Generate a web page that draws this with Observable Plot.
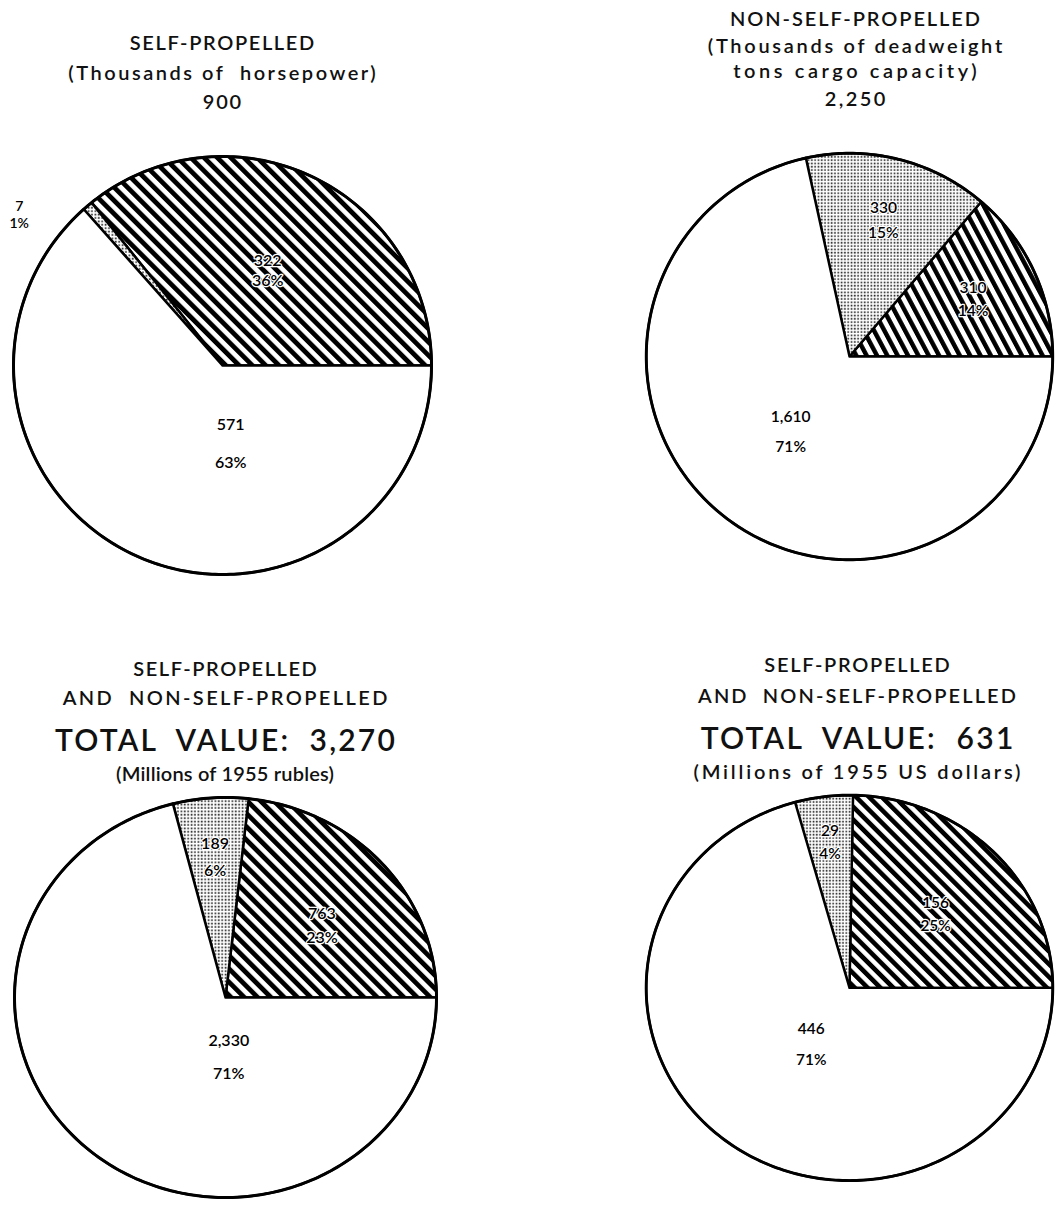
<!DOCTYPE html>
<html>
<head>
<meta charset="utf-8">
<script src="https://cdn.jsdelivr.net/npm/d3@7"></script>
<script src="https://cdn.jsdelivr.net/npm/@observablehq/plot@0.6"></script>
<style>
  html, body { margin: 0; padding: 0; background: #fff; }
  body { position: relative; width: 1060px; height: 1220px; overflow: hidden;
         font-family: Lato, "Open Sans", "DejaVu Sans", sans-serif; color: #111; }
  .tl { position: absolute; white-space: pre; text-align: center; transform: translate(-50%, -50%);
        line-height: 1; font-weight: 600; }
  .pie { position: absolute; }
  .pie svg { overflow: visible; }
</style>
</head>
<body>
<svg width="0" height="0" style="position:absolute">
  <defs>
    <pattern id="hatchA" patternUnits="userSpaceOnUse" width="9.4" height="9.4" patternTransform="rotate(-45)">
      <rect width="9.4" height="9.4" fill="#fff"/>
      <rect width="4.8" height="9.4" fill="#000"/>
    </pattern>
    <pattern id="hatchB" patternUnits="userSpaceOnUse" width="9.4" height="9.4" patternTransform="rotate(-28)">
      <rect width="9.4" height="9.4" fill="#fff"/>
      <rect width="4.6" height="9.4" fill="#000"/>
    </pattern>
    <pattern id="stipple" patternUnits="userSpaceOnUse" width="3.4" height="3.4">
      <rect width="3.4" height="3.4" fill="#fff"/>
      <rect x="0.6" y="0.6" width="1.7" height="1.7" fill="#222"/>
    </pattern>
  </defs>
</svg>
<script>
// ---- data ----
const sliceKinds = ["striped", "stippled", "blank"]; // order counter-clockwise from 3 o'clock

const hpValues = [322, 7, 571];
const hpShares = ["36%", "1%", "63%"];

const dwtValues = [310, 330, 1610];
const dwtShares = ["14%", "15%", "71%"];

const rubleValues = [763, 189, 2330];
const rubleShares = ["23%", "6%", "71%"];

const dollarValues = [156, 29, 446];
const dollarShares = ["25%", "4%", "71%"];

const titleLines = [
  ["SELF-PROPELLED", "(Thousands of  horsepower)", "900"],
  ["NON-SELF-PROPELLED", "(Thousands of deadweight", "tons cargo capacity)", "2,250"],
  ["SELF-PROPELLED", "AND  NON-SELF-PROPELLED", "TOTAL  VALUE:  3,270", "(Millions of 1955 rubles)"],
  ["SELF-PROPELLED", "AND  NON-SELF-PROPELLED", "TOTAL  VALUE:  631", "(Millions of 1955 US dollars)"]
];

// ---- layout (positions / sizes / styles only) ----
const M = 8;
const pies = [
  { values: hpValues, shares: hpShares, cx: 222, cy: 365, rx: 209, ry: 209, hatch: "hatchA",
    titleY: [42, 72, 101], titleSize: [20, 20, 20], titleW: [186, 310, 40],
    labelAngle: [null, 143.5, 276], labelR: [0.5, 1.21, 0.375], gap: [20, 17, 38], labelSize: [16, 14, 16] },
  { values: dwtValues, shares: dwtShares, cx: 855, cy: 362, rx: 209, ry: 209, hatch: "hatchB",
    titleY: [18, 45, 70, 98], titleSize: [20, 20, 20, 20], titleW: [252, 297, 247, 63],
    labelAngle: [null, null, 232], labelR: [0.67, 0.69, 0.47], gap: [23, 26, 31], labelSize: [16, 16, 16] },
  { values: rubleValues, shares: rubleShares, cx: 225, cy: 997, rx: 211, ry: 200, hatch: "hatchA",
    titleY: [668, 697, 739, 773], titleSize: [20, 20, 30, 20], titleW: [185, 327, 342, 218],
    labelAngle: [38, null, 273], labelR: [0.58, 0.7, 0.3], gap: [24, 27, 33], labelSize: [16, 16, 16] },
  { values: dollarValues, shares: dollarShares, cx: 857, cy: 995, rx: 211, ry: 200, hatch: "hatchA",
    titleY: [664, 695, 737, 771], titleSize: [20, 20, 30, 20], titleW: [187, 320, 315, 330],
    labelAngle: [42, null, 237.5], labelR: [0.57, 0.76, 0.35], gap: [24, 24, 32], labelSize: [16, 16, 16] }
];

const fmt = d3.format(",");
const rad = Math.PI / 180;
const labelFont = "Lato, 'Open Sans', sans-serif";

pies.forEach((p, pi) => {
  // titles (letter-spacing fitted to the reference line widths)
  titleLines[pi].forEach((line, li) => {
    const d = document.createElement("div");
    d.className = "tl";
    d.textContent = line;
    d.style.left = p.cx + "px";
    d.style.top = p.titleY[li] + "px";
    d.style.fontSize = p.titleSize[li] + "px";
    document.body.appendChild(d);
    const w = d.getBoundingClientRect().width;
    const ls = (p.titleW[li] - w) / line.length;
    d.style.letterSpacing = ls.toFixed(2) + "px";
    d.style.paddingLeft = ls.toFixed(2) + "px";
  });

  // slice polygons built from the data
  const total = d3.sum(p.values);
  let a0 = 0;
  const polys = [];
  const labels = [];
  p.values.forEach((v, i) => {
    const a1 = a0 + (v / total) * 2 * Math.PI;
    const n = Math.max(2, Math.ceil((a1 - a0) / rad));
    const pts = [{ x: 0, y: 0 }];
    for (let j = 0; j <= n; j++) {
      const a = a0 + (a1 - a0) * j / n;
      pts.push({ x: Math.cos(a), y: Math.sin(a) });
    }
    pts.push({ x: 0, y: 0 });
    polys.push(pts);
    const am = p.labelAngle[i] != null ? p.labelAngle[i] * rad : (a0 + a1) / 2;
    labels.push({ x: p.labelR[i] * Math.cos(am), y: p.labelR[i] * Math.sin(am),
                  value: fmt(v), share: p.shares[i], gap: p.gap[i], size: p.labelSize[i],
                  kind: sliceKinds[i] });
    a0 = a1;
  });

  const fills = { striped: `url(#${p.hatch})`, stippled: "url(#stipple)", blank: "#fff" };
  const circle = d3.range(0, 361, 1).map(d => ({ x: Math.cos(d * rad), y: Math.sin(d * rad) }));

  const marks = [];
  polys.forEach((pts, i) => {
    marks.push(Plot.line(pts, { x: "x", y: "y", fill: fills[sliceKinds[i]], stroke: "#000",
                                strokeWidth: 2.5, strokeLinejoin: "round", curve: "linear" }));
  });
  marks.push(Plot.line(circle, { x: "x", y: "y", stroke: "#000", strokeWidth: 3 }));
  labels.forEach(l => {
    const halo = l.kind === "blank" ? "none" : "#fff";
    marks.push(Plot.text([l], { x: "x", y: "y", text: "value", dy: -l.gap / 2, fontSize: l.size,
      fontWeight: 600, fill: "#000", stroke: halo, strokeWidth: 2.5, fontFamily: labelFont }));
    marks.push(Plot.text([l], { x: "x", y: "y", text: "share", dy: l.gap / 2, fontSize: l.size,
      fontWeight: 600, fill: "#000", stroke: halo, strokeWidth: 2.5, fontFamily: labelFont }));
  });

  const W = 2 * (p.rx + M), H = 2 * (p.ry + M);
  const chart = Plot.plot({
    width: W, height: H, margin: M,
    x: { domain: [-1, 1], axis: null },
    y: { domain: [-1, 1], axis: null },
    style: { background: "transparent", overflow: "visible" },
    marks
  });
  const wrap = document.createElement("div");
  wrap.className = "pie";
  wrap.style.left = (p.cx - W / 2) + "px";
  wrap.style.top = (p.cy - H / 2) + "px";
  wrap.appendChild(chart);
  document.body.appendChild(wrap);
});
</script>
</body>
</html>
